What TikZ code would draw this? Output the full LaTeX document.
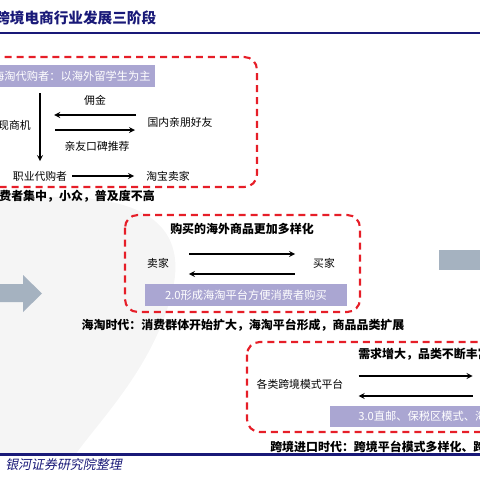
\documentclass[tikz,border=0pt]{standalone}
\usepackage{fontspec}
\setmainfont{Noto Sans CJK SC}
\newfontfamily\srcfont[FakeSlant=0.2]{Noto Sans CJK SC}
\usetikzlibrary{calc}
\definecolor{navy}{RGB}{25,25,120}
\definecolor{dashred}{RGB}{230,30,40}
\definecolor{lav}{RGB}{170,166,210}
\definecolor{arrgray}{RGB}{165,178,192}
\begin{document}
\begin{tikzpicture}[x=0.025cm,y=-0.025cm,>=stealth,
	phase/.style={draw=dashred,line width=1.5pt,dash pattern=on 5pt off 3.5pt,rounded corners=9pt},
	band/.style={inner sep=0pt,text=white,font=\fontsize{8}{8}\selectfont},
	lab/.style={inner sep=0pt,font=\fontsize{7.7}{8}\selectfont},
	stagecap/.style={inner sep=0pt,font=\fontsize{8.5}{9}\selectfont\bfseries},
	flow/.style={->,line width=0.9pt}]
	\useasboundingbox (0,0) rectangle (480,480);
	\clip (0,0) rectangle (480,480);
	% background
	\fill[gray!8] (0,200) .. controls (100,190) and (200,200) .. (170,300) .. controls (150,370) and (100,420) .. (75,455) -- (0,455) -- cycle;
	\draw[navy,line width=1.5pt] (0,33)--(480,33);
	\draw[navy,line width=2pt] (0,454.5)--(480,454.5);
	\node[anchor=west,inner sep=0pt,text=navy,font=\fontsize{10.4}{11}\selectfont\bfseries] (title) at (-5,18) {跨境电商行业发展三阶段};
	\node[anchor=east,inner sep=0pt,text=navy,font=\srcfont\fontsize{9.2}{10}\selectfont] (src) at (122,465) {资料来源：银河证券研究院整理};
	% stage 1
	\draw[phase] (-20,57) rectangle (257,187);
	\fill[lav] (-10,65) rectangle (155,87);
	\node[band,anchor=east] (buyer1) at (151,76) {海淘代购者：以海外留学生为主};
	\node[lab,anchor=east] (fm) at (31,125) {发现商机};
	\node[lab] (fee) at (95,100) {佣金};
	\node[lab] (friends) at (180,122) {国内亲朋好友};
	\node[lab] (word) at (97,146) {亲友口碑推荐};
	\node[lab] (agent) at (40,176) {职业代购者};
	\node[lab] (taobao) at (168,176) {淘宝卖家};
	\draw[flow] (friends.west) ++(-11,-7) -- ++(-82,0);
	\draw[flow] (fm.east) ++(24,5) -- ++(80,0);
	\draw[flow,shorten <=4.3pt,shorten >=6.8pt] (40,87) -- (agent.north);
	\draw[flow,shorten <=3.5pt,shorten >=8.5pt] (agent) -- (taobao);
	\node[stagecap,anchor=east] (cap1) at (155,196) {消费者集中，小众，普及度不高};
	% arrows between stages
	\fill[arrgray] (-10,284) -- (23,284) -- (23,275) -- (42,293.5) -- (23,312) -- (23,302) -- (-10,302) -- cycle;
	\fill[arrgray] (439,250) rectangle (500,270);
	% stage 2
	\draw[phase] (125,215) rectangle (360,312);
	\node[stagecap] (goods) at (242,229) {购买的海外商品更加多样化};
	\node[lab] (seller) at (158,263) {卖家};
	\node[lab] (buyer) at (324,263) {买家};
	\draw[flow] (seller.east) ++(20,-9) -- ++(106,0);
	\draw[flow] (buyer.west) ++(-18,11) -- ++(-106,0);
	\fill[lav] (145,284) rectangle (347,306);
	\node[band] (plat2) at (246,295) {2.0形成海淘平台方便消费者购买};
	\node[stagecap] (cap2) at (243,325) {海淘时代：消费群体开始扩大，海淘平台形成，商品品类扩展};
	% stage 3
	\draw[phase] (247,342) rectangle (520,432);
	\node[stagecap,anchor=west] (need) at (358,354) {需求增大，品类不断丰富};
	\node[lab] (platform) at (300,384) {各类跨境模式平台};
	\draw[flow] (platform.east) ++(15,-8) -- ++(114,0);
	\draw[flow] (platform.east) ++(129,12) -- ++(-114,0);
	\fill[lav] (330,406) rectangle (520,427);
	\node[band,anchor=west] (mode) at (358,416.5) {3.0直邮、保税区模式、海外仓};
	\node[stagecap,anchor=west] (cap3) at (270,447) {跨境进口时代：跨境平台模式多样化、跨境};
\end{tikzpicture}
\end{document}
